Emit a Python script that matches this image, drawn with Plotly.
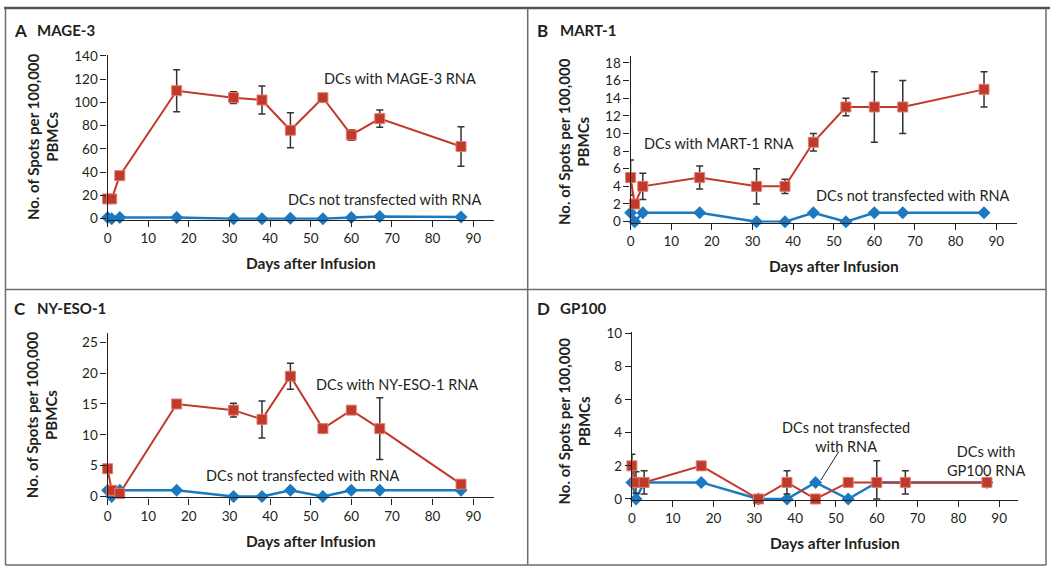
import plotly.graph_objects as go

W, H = 1050, 574

days = [0, 1, 3, 17, 31, 38, 45, 53, 60, 67, 87]

# Panel A: MAGE-3
a_rna = [17, 17, 37, 110, 104, 102, 76, 104, 72, 86, 62]
a_rna_err = [0, 0, 0, 18, 5, 12, 15, 0, 4.5, 7.5, 17]
a_ctrl = [1, 0, 1, 1, 0, 0, 0.5, 0, 1, 2, 1.5]

# Panel B: MART-1
b_rna = [5, 2, 4, 5, 4, 4, 9, 13, 13, 13, 15]
b_rna_err = [2, 0, 1.5, 1.3, 2, 0.8, 1, 1, 4, 3, 2]
b_ctrl = [1, 0, 1, 1, 0, 0, 1, 0, 1, 1, 1]

# Panel C: NY-ESO-1
c_rna = [4.5, 1, 0.5, 15, 14, 12.5, 19.5, 11, 14, 11, 2]
c_rna_err = [0, 0, 0, 0, 1.1, 3, 2.1, 0, 0, 5, 0]
c_ctrl = [1, 0, 1, 1, 0, 0, 1, 0, 1, 1, 1]

# Panel D: GP100
d_rna = [2, 1, 1, 2, 0, 1, 0, 1, 1, 1, 1]
d_rna_err = [0.7, 0.65, 0.7, 0.25, 0, 0.7, 0, 0.2, 1.3, 0.7, 0]
d_rna_errminus = [0.7, 0.65, 0.7, 0.25, 0, 0.7, 0, 0.2, 1.0, 0.7, 0]
d_ctrl = [1, 0, 1, 1, 0, 0, 1, 0, 1, 1, 1]

panel_letters = ["A", "B", "C", "D"]
panel_names = ["MAGE-3", "MART-1", "NY-ESO-1", "GP100"]
x_title = "Days after Infusion"
y_title = "No. of Spots per 100,000<br>PBMCs"
x_ticks = [0, 10, 20, 30, 40, 50, 60, 70, 80, 90]
y_ticks = [
    [0, 20, 40, 60, 80, 100, 120, 140],
    [0, 2, 4, 6, 8, 10, 12, 14, 16, 18],
    [0, 5, 10, 15, 20, 25],
    [0, 2, 4, 6, 8, 10],
]

RED = "#c1392b"
RED_EDGE = "#e07d6e"
BLUE = "#1b79c0"
INK = "#231f20"
FONT = "Lato"

# pixel geometry: (x0px, x90px, xmax, y0px, ytick_px, ytick_val, ymax)
geom = [
    (104.0, 471.0, 95.1, 217.0, 50.0, 140, 141),
    (629.0, 996.0, 95.1, 220.0, 57.3, 18, 18.8),
    (104.0, 471.0, 95.1, 501.7, 343.7, 25, 26.5),
    (630.3, 999.0, 94.7, 504.3, 334.3, 10, 10.05),
]

rna = [a_rna, b_rna, c_rna, d_rna]
rna_err = [a_rna_err, b_rna_err, c_rna_err, d_rna_err]
rna_errm = [a_rna_err, b_rna_err, c_rna_err, d_rna_errminus]
ctrl = [a_ctrl, b_ctrl, c_ctrl, d_ctrl]

fig = go.Figure()
layout = dict(
    width=W, height=H, margin=dict(l=0, r=0, t=0, b=0),
    paper_bgcolor="white", plot_bgcolor="white", showlegend=False,
    font=dict(family=FONT, color=INK, size=13),
)
annotations = []
shapes = []

for i in range(4):
    x0, x90, xmax, y0, ytp, ytv, ymax = geom[i]
    pxd = (x90 - x0) / 90.0
    pyu = (y0 - ytp) / ytv
    ymin = -1.0 / pyu
    left = x0
    right = x0 + xmax * pxd
    bottom = y0 - ymin * pyu
    top = y0 - ymax * pyu
    n = "" if i == 0 else str(i + 1)
    xa, ya = "x" + n, "y" + n
    layout["xaxis" + n] = dict(
        domain=[left / W, right / W], range=[0, xmax], anchor=ya,
        tickvals=x_ticks, ticks="outside", ticklen=6, tickwidth=1.2,
        tickcolor=INK, showline=True, linecolor=INK, linewidth=1.3,
        showgrid=False, zeroline=False, tickfont=dict(size=13.5, family=FONT),
    )
    layout["yaxis" + n] = dict(
        domain=[1 - bottom / H, 1 - top / H], range=[ymin, ymax], anchor=xa,
        tickvals=y_ticks[i], ticks="outside", ticklen=6, tickwidth=1.2,
        tickcolor=INK, showline=True, linecolor=INK, linewidth=1.3,
        showgrid=False, zeroline=False, tickfont=dict(size=13.5, family=FONT),
    )
    fig.add_trace(go.Scatter(
        x=days, y=ctrl[i], xaxis=xa, yaxis=ya, mode="lines+markers",
        line=dict(color=BLUE, width=2.5),
        marker=dict(symbol="diamond", size=10, color=BLUE),
        cliponaxis=False,
    ))
    fig.add_trace(go.Scatter(
        x=days, y=rna[i], xaxis=xa, yaxis=ya, mode="lines+markers",
        line=dict(color=RED, width=2),
        marker=dict(symbol="square", size=10, color=RED,
                    line=dict(color=RED_EDGE, width=1)),
        error_y=dict(type="data", array=rna_err[i], arrayminus=rna_errm[i],
                     symmetric=False, color="#333333", thickness=1.5, width=3.5),
        cliponaxis=False,
    ))
    # panel headers
    cx = 0 if i % 2 == 0 else 525
    cy = 0 if i < 2 else 285
    annotations.append(dict(
        text="<b>%s</b>" % panel_letters[i], xref="paper", yref="paper",
        x=(cx + 8) / W, y=1 - (cy + 24) / H, xanchor="left", yanchor="middle",
        showarrow=False, font=dict(size=17, family=FONT, color=INK)))
    annotations.append(dict(
        text="<b>%s</b>" % panel_names[i], xref="paper", yref="paper",
        x=(cx + 31) / W, y=1 - (cy + 24) / H, xanchor="left", yanchor="middle",
        showarrow=False, font=dict(size=15, family=FONT, color=INK)))
    # axis titles
    xt_pos = [(308, 262), (833, 265), (308, 547), (834, 549)][i]
    annotations.append(dict(
        text="<b>%s</b>" % x_title, xref="paper", yref="paper",
        x=xt_pos[0] / W, y=1 - xt_pos[1] / H, xanchor="center", yanchor="middle",
        showarrow=False, font=dict(size=15.5, family=FONT, color=INK)))
    yt_pos = [(38.5, 133), (571.5, 138), (38, 417.5), (572, 424)][i]
    annotations.append(dict(
        text="<b>%s</b>" % y_title, xref="paper", yref="paper",
        x=yt_pos[0] / W, y=1 - yt_pos[1] / H, xanchor="center", yanchor="middle",
        textangle=-90, showarrow=False,
        font=dict(size=15, family=FONT, color=INK)))

series_labels = [
    ("x", "y", "DCs with MAGE-3 RNA", 72.1, 120.7),
    ("x", "y", "DCs not transfected with RNA", 68.4, 16.2),
    ("x2", "y2", "DCs with MART-1 RNA", 21.8, 8.85),
    ("x2", "y2", "DCs not transfected with RNA", 69.6, 2.99),
    ("x3", "y3", "DCs with NY-ESO-1 RNA", 71.3, 18.2),
    ("x3", "y3", "DCs not transfected with RNA", 48.2, 3.32),
    ("x4", "y4", "DCs not transfected<br>with RNA", 52.4, 3.72),
    ("x4", "y4", "DCs with<br>GP100 RNA", 86.8, 2.3),
]
for xr, yr, t, x, y in series_labels:
    annotations.append(dict(
        text=t, xref=xr, yref=yr, x=x, y=y, xanchor="center", yanchor="middle",
        showarrow=False, font=dict(size=14.5, family=FONT, color=INK)))

# pointer line in panel D
shapes.append(dict(type="line", xref="x4", yref="y4", x0=50.7, y0=2.86,
                   x1=46.3, y1=1.14, line=dict(color=INK, width=1)))

# frame and dividers
frame = dict(color="#6d6d6d", width=1.5)
shapes += [
    dict(type="line", xref="paper", yref="paper", x0=0, x1=1, y0=1 - 1 / H, y1=1 - 1 / H,
         line=dict(color="#555555", width=2.5)),
    dict(type="line", xref="paper", yref="paper", x0=1.5 / W, x1=1.5 / W, y0=1 - 572 / H, y1=1 - 2 / H, line=frame),
    dict(type="line", xref="paper", yref="paper", x0=1046 / W, x1=1046 / W, y0=1 - 572 / H, y1=1 - 2 / H, line=frame),
    dict(type="line", xref="paper", yref="paper", x0=1.5 / W, x1=1046 / W, y0=1 - 572 / H, y1=1 - 572 / H, line=frame),
    dict(type="line", xref="paper", yref="paper", x0=525.7 / W, x1=525.7 / W, y0=1 - 572 / H, y1=1 - 2 / H, line=frame),
    dict(type="line", xref="paper", yref="paper", x0=1.5 / W, x1=1046 / W, y0=1 - 289.5 / H, y1=1 - 289.5 / H, line=frame),
]

layout["annotations"] = annotations
layout["shapes"] = shapes
fig.update_layout(**layout)
fig.write_html(
    "out.html",
    config={"displayModeBar": False},
    post_script="document.body.style.margin='0px';document.body.style.overflow='hidden';",
)
